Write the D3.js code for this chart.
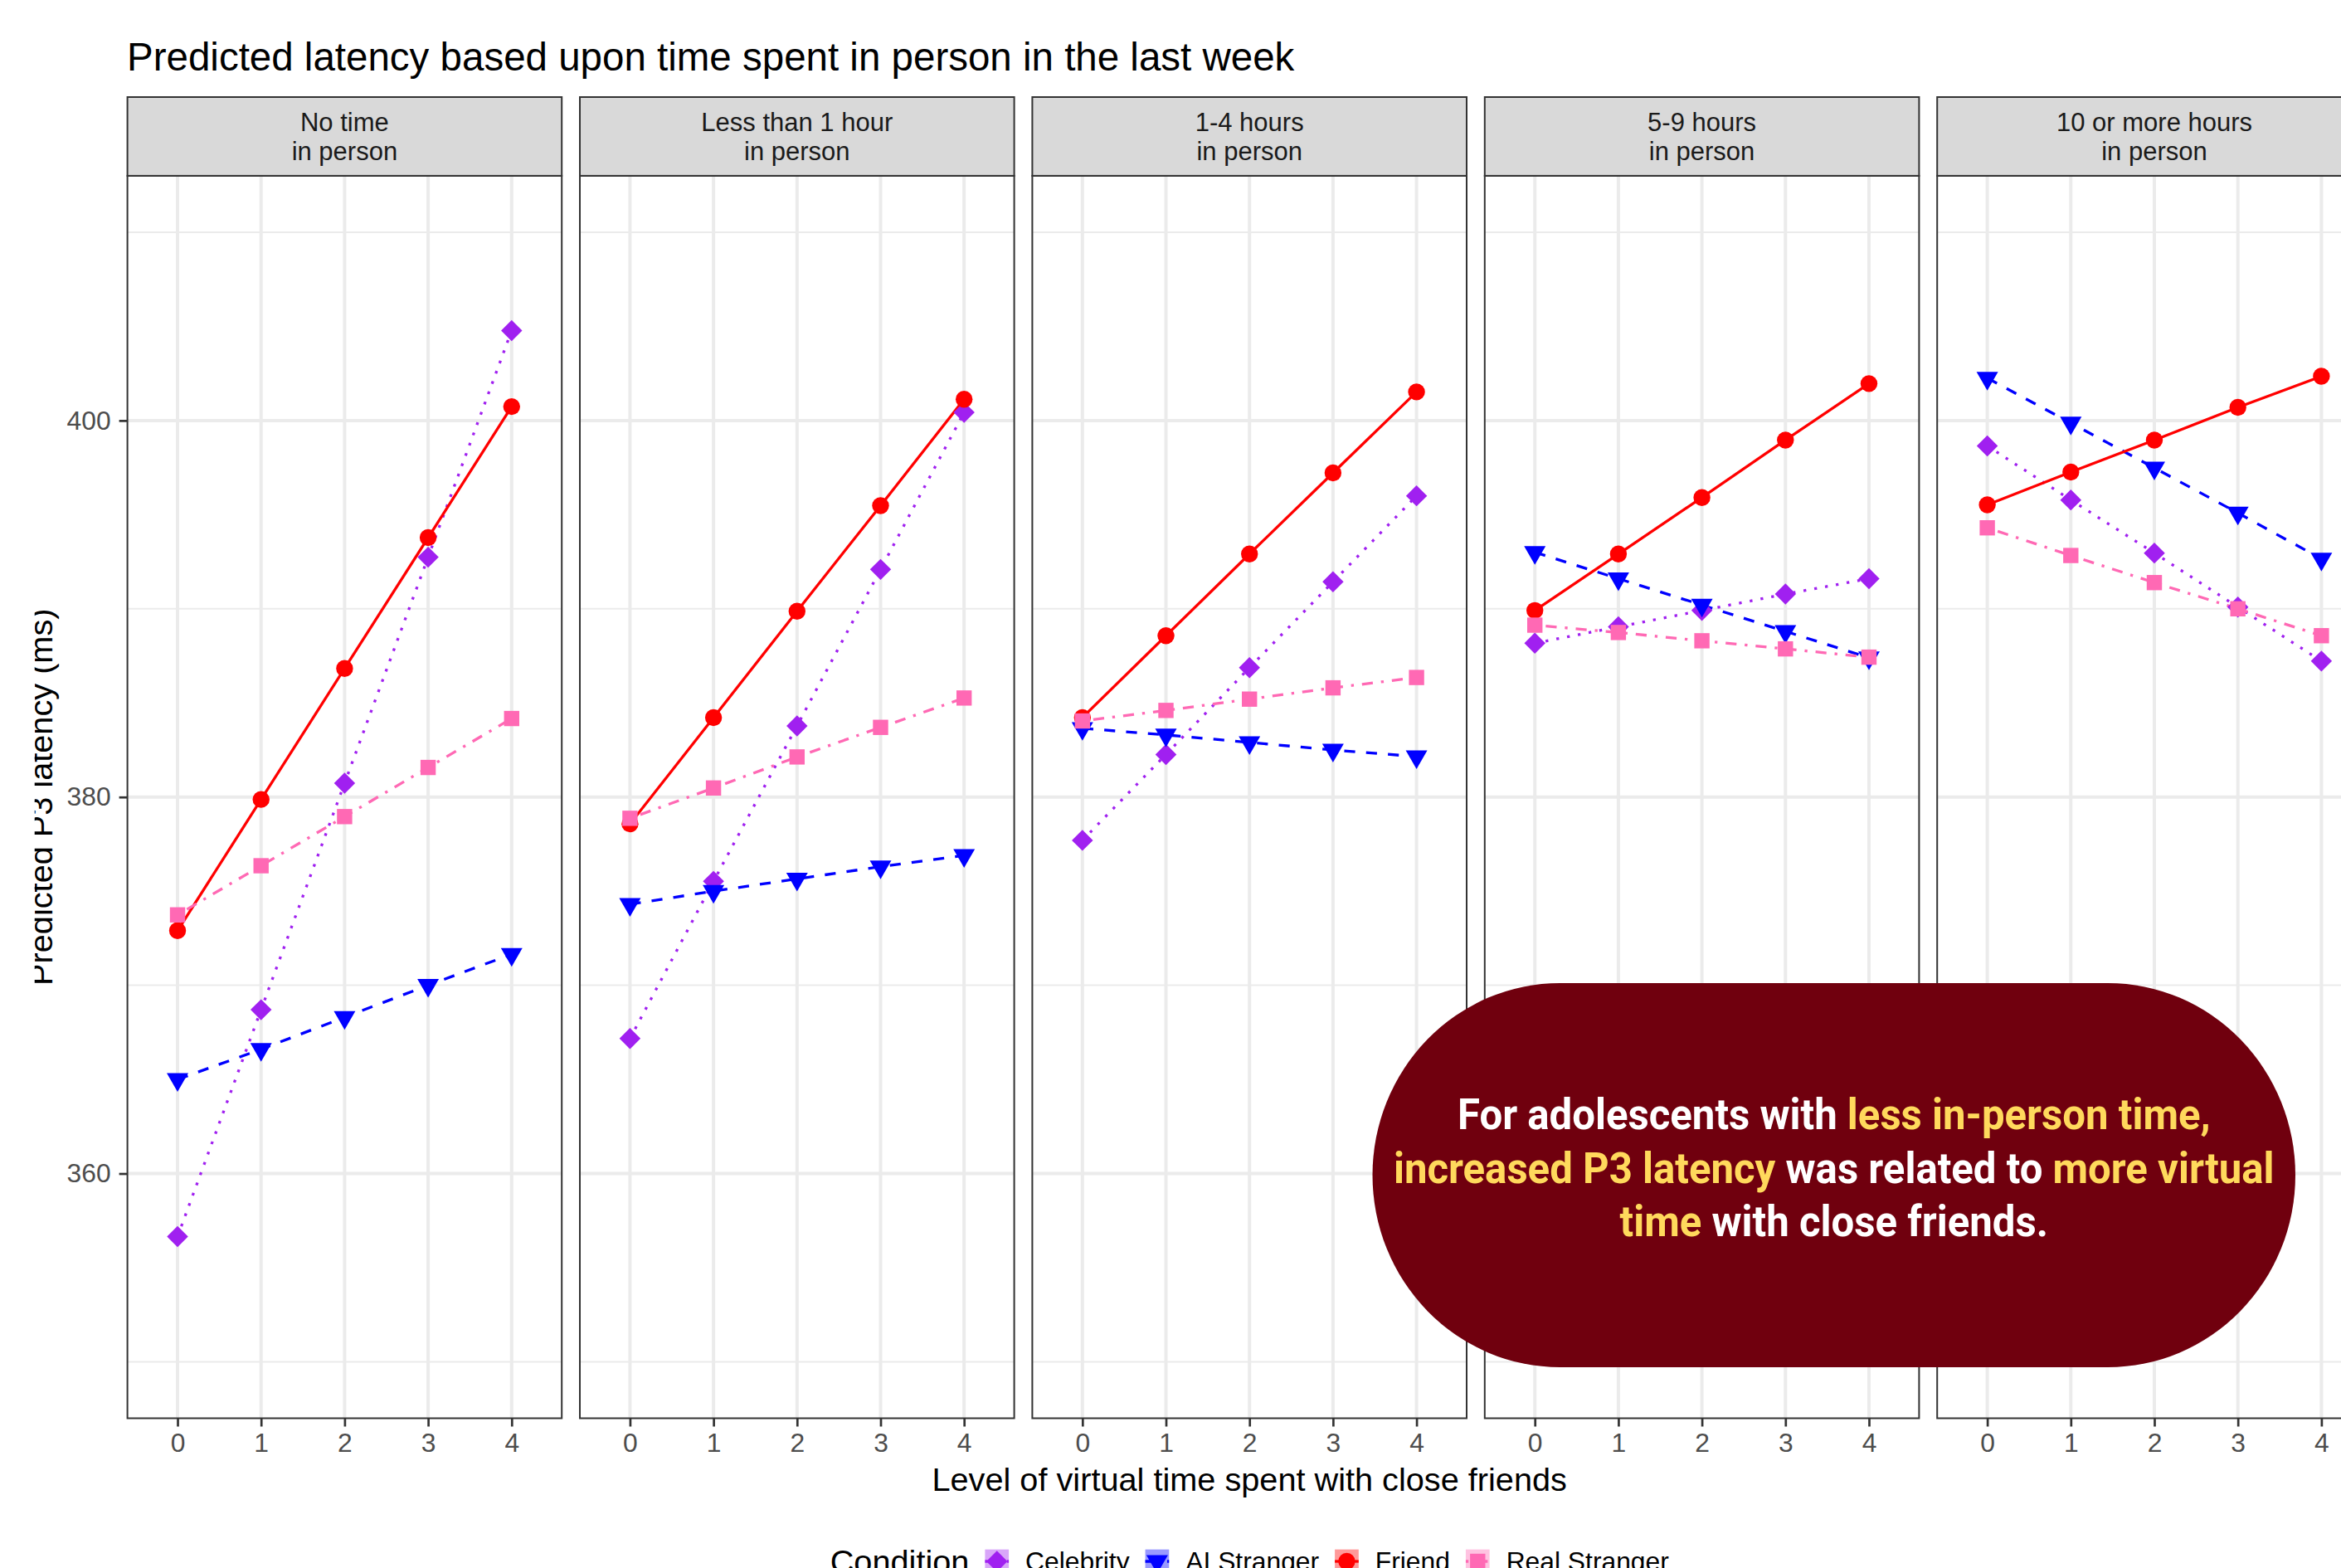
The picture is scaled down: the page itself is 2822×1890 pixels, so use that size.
<!DOCTYPE html>
<html><head><meta charset="utf-8">
<script src="https://cdn.jsdelivr.net/npm/d3@7"></script>
<style>html,body{margin:0;padding:0;background:#fff;} svg{display:block;}</style>
</head><body>
<svg id="chart" width="2822" height="1890"></svg>
<script>
// ---------------- data ----------------
const panelLabels = ["No time\nin person", "Less than 1 hour\nin person", "1-4 hours\nin person", "5-9 hours\nin person", "10 or more hours\nin person"];
const xLevels = [0, 1, 2, 3, 4];
const conditions = ["Celebrity", "AI Stranger", "Friend", "Real Stranger"];
const yTicks = [360, 380, 400];
const yMinorTicks = [350, 370, 390, 410];

const celebrity = [
  [356.65, 368.70, 380.74, 392.74, 404.78],
  [367.17, 375.52, 383.78, 392.09, 400.43],
  [377.70, 382.26, 386.87, 391.43, 396.00],
  [388.17, 389.04, 389.91, 390.78, 391.60],
  [398.65, 395.78, 392.96, 390.09, 387.22]
];
const aiStranger = [
  [365.00, 366.60, 368.30, 370.00, 371.65],
  [374.30, 375.00, 375.65, 376.30, 376.90],
  [383.65, 383.30, 382.90, 382.50, 382.15],
  [393.00, 391.60, 390.20, 388.80, 387.40],
  [402.25, 399.87, 397.48, 395.09, 392.65]
];
const friend = [
  [372.90, 379.87, 386.83, 393.78, 400.74],
  [378.57, 384.22, 389.87, 395.48, 401.13],
  [384.22, 388.57, 392.91, 397.22, 401.52],
  [389.91, 392.91, 395.91, 398.96, 401.96],
  [395.52, 397.26, 398.96, 400.70, 402.35]
];
const realStranger = [
  [373.74, 376.35, 378.96, 381.57, 384.17],
  [378.87, 380.48, 382.13, 383.70, 385.26],
  [384.04, 384.60, 385.20, 385.80, 386.35],
  [389.13, 388.74, 388.30, 387.87, 387.43],
  [394.30, 392.83, 391.39, 390.00, 388.57]
];
const seriesValues = [celebrity, aiStranger, friend, realStranger];

// ---------------- styles ----------------
const colors = ["#A020F0", "#0000FF", "#FF0000", "#FF69B4"];
const dashes = ["3.3,9.9", "13.2,13.2", null, "3.3,9.9,13.2,9.9"];
const shapes = ["diamond", "triangleDown", "circle", "square"];

const W = 2822, H = 1890;
const panelX0 = 153.6, panelW = 523.6, panelGap = 21.8;
const plotTop = 211.9, plotBottom = 1709.5, stripTop = 117;
const FONT = "'Liberation Sans', Arial, Helvetica, sans-serif";

const svg = d3.select("#chart").attr("font-family", FONT);
svg.append("rect").attr("width", W).attr("height", H).attr("fill", "#fff");

const y = d3.scaleLinear().domain([347, 413]).range([plotBottom, plotTop]);

function symbolPath(shape) {
  if (shape === "circle") return d3.symbol(d3.symbolCircle, Math.PI * 10.2 * 10.2)();
  if (shape === "square") return d3.symbol(d3.symbolSquare, 18.4 * 18.4)();
  if (shape === "diamond") return d3.symbol(d3.symbolSquare, 18.0 * 18.0)();
  if (shape === "triangleDown") return d3.symbol(d3.symbolTriangle, 292)();
}
function symbolRotate(shape) {
  if (shape === "diamond") return 45;
  if (shape === "triangleDown") return 180;
  return 0;
}

// ---------------- title ----------------
svg.append("text").attr("x", 153).attr("y", 85)
  .attr("font-size", 47.5).attr("fill", "#000")
  .text("Predicted latency based upon time spent in person in the last week");

// ---------------- panels ----------------
panelLabels.forEach((lab, p) => {
  const px = panelX0 + p * (panelW + panelGap);
  const x = d3.scaleLinear().domain([-0.6, 4.6]).range([px, px + panelW]);
  const g = svg.append("g");

  g.append("rect").attr("x", px).attr("y", plotTop).attr("width", panelW)
    .attr("height", plotBottom - plotTop).attr("fill", "#fff");

  g.selectAll(".gminor").data(yMinorTicks).enter().append("line")
    .attr("x1", px).attr("x2", px + panelW)
    .attr("y1", d => y(d)).attr("y2", d => y(d))
    .attr("stroke", "#EBEBEB").attr("stroke-width", 2);
  g.selectAll(".gmajor").data(yTicks).enter().append("line")
    .attr("x1", px).attr("x2", px + panelW)
    .attr("y1", d => y(d)).attr("y2", d => y(d))
    .attr("stroke", "#EBEBEB").attr("stroke-width", 4);
  g.selectAll(".gx").data(xLevels).enter().append("line")
    .attr("x1", d => x(d)).attr("x2", d => x(d))
    .attr("y1", plotTop).attr("y2", plotBottom)
    .attr("stroke", "#EBEBEB").attr("stroke-width", 4);

  const line = d3.line().x((d, i) => x(xLevels[i])).y(d => y(d));
  seriesValues.forEach((sv, s) => {
    g.append("path").attr("d", line(sv[p])).attr("fill", "none")
      .attr("stroke", colors[s]).attr("stroke-width", 3.3)
      .attr("stroke-linecap", "butt")
      .attr("stroke-dasharray", dashes[s]);
  });
  seriesValues.forEach((sv, s) => {
    g.selectAll(".pt" + s).data(sv[p]).enter().append("path")
      .attr("d", symbolPath(shapes[s]))
      .attr("transform", (d, i) => `translate(${x(xLevels[i])},${y(d)}) rotate(${symbolRotate(shapes[s])})`)
      .attr("fill", colors[s]);
  });

  g.append("rect").attr("x", px).attr("y", plotTop).attr("width", panelW)
    .attr("height", plotBottom - plotTop).attr("fill", "none")
    .attr("stroke", "#333333").attr("stroke-width", 2);

  g.append("rect").attr("x", px).attr("y", stripTop).attr("width", panelW)
    .attr("height", plotTop - stripTop).attr("fill", "#D9D9D9")
    .attr("stroke", "#333333").attr("stroke-width", 2);
  const lines = lab.split("\n");
  const cy = (stripTop + plotTop) / 2;
  lines.forEach((t, k) => {
    g.append("text").attr("x", px + panelW / 2)
      .attr("y", cy + (k - (lines.length - 1) / 2) * 34.4 + 11.1)
      .attr("text-anchor", "middle").attr("font-size", 31)
      .attr("fill", "#1A1A1A").text(t);
  });

  const ax = svg.append("g").attr("transform", `translate(0,${plotBottom})`)
    .call(d3.axisBottom(x).tickValues(xLevels).tickFormat(d3.format("d")).tickSize(10).tickPadding(8));
  ax.select(".domain").remove();
  ax.selectAll("line").attr("stroke", "#333333").attr("stroke-width", 2.7);
  ax.selectAll("text").attr("font-size", 31.8).attr("fill", "#4D4D4D").attr("font-family", FONT);

  if (p === 0) {
    const ay = svg.append("g").attr("transform", `translate(${px},0)`)
      .call(d3.axisLeft(y).tickValues(yTicks).tickSize(10).tickPadding(10));
    ay.select(".domain").remove();
    ay.selectAll("line").attr("stroke", "#333333").attr("stroke-width", 2.7);
    ay.selectAll("text").attr("font-size", 31.8).attr("fill", "#4D4D4D").attr("font-family", FONT);
  }
});

// ---------------- axis titles ----------------
const fullRight = panelX0 + 5 * panelW + 4 * panelGap;
svg.append("text").attr("x", (panelX0 + fullRight) / 2).attr("y", 1796.7)
  .attr("text-anchor", "middle").attr("font-size", 39.7).attr("fill", "#000")
  .text("Level of virtual time spent with close friends");

svg.append("clipPath").attr("id", "ytclip").append("rect")
  .attr("x", 41.7).attr("y", 0).attr("width", 200).attr("height", H);
svg.append("g").attr("clip-path", "url(#ytclip)")
  .append("text").attr("transform", `translate(63.3,${(plotTop + plotBottom) / 2}) rotate(-90)`)
  .attr("text-anchor", "middle").attr("font-size", 39.7).attr("fill", "#000")
  .text("Predicted P3 latency (ms)");

// ---------------- legend ----------------
const legY = 1882;
const lg = svg.append("g");
const lt = lg.append("text").attr("x", 1000.7).attr("y", legY + 14.2)
  .attr("font-size", 39.7).attr("fill", "#000").text("Condition");
let cx = 1000.7 + lt.node().getComputedTextLength() + 19;
const keyW = 28.7;
conditions.forEach((c, s) => {
  lg.append("rect").attr("x", cx).attr("y", legY - keyW / 2).attr("width", keyW).attr("height", keyW)
    .attr("fill", colors[s]).attr("fill-opacity", 0.4);
  lg.append("line").attr("x1", cx).attr("x2", cx + keyW).attr("y1", legY).attr("y2", legY)
    .attr("stroke", colors[s]).attr("stroke-width", 3.3).attr("stroke-dasharray", dashes[s]);
  lg.append("path").attr("d", symbolPath(shapes[s]))
    .attr("transform", `translate(${cx + keyW / 2},${legY}) rotate(${symbolRotate(shapes[s])})`)
    .attr("fill", colors[s]);
  const tx = lg.append("text").attr("x", cx + keyW + 20).attr("y", legY + 11.4)
    .attr("font-size", 31.8).attr("fill", "#000").text(c);
  cx = cx + keyW + 20 + tx.node().getComputedTextLength() + 19;
});

// ---------------- annotation ----------------
const boxX = 1654.5, boxY = 1185, boxW = 1112.5, boxH = 463;
svg.append("rect").attr("x", boxX).attr("y", boxY).attr("width", boxW).attr("height", boxH)
  .attr("rx", 226).attr("ry", 231.5).attr("fill", "#70000E");
const YEL = "#FFD95C", WHT = "#FFFFFF";
const noteLines = [
  [["For adolescents with ", WHT], ["less in-person time,", YEL]],
  [["increased P3 latency", YEL], [" was related to ", WHT], ["more virtual", YEL]],
  [["time", YEL], [" with close friends.", WHT]]
];
const noteBase = [1360.7, 1426, 1490.5];
const noteCx = boxX + boxW / 2;
const noteG = svg.append("g");
const noteTexts = noteLines.map((ln, k) => {
  const t = noteG.append("text").attr("x", 0).attr("y", noteBase[k])
    .attr("text-anchor", "middle").attr("font-family", "Roboto, 'Liberation Sans', sans-serif")
    .attr("font-weight", 700).attr("font-size", 52.5).style("white-space", "pre");
  ln.forEach(([s, col]) => t.append("tspan").attr("fill", col).text(s));
  return t;
});
// condense horizontally so the widest line matches the reference width
const w2 = noteTexts[1].node().getComputedTextLength();
const sx = 1062 / w2;
noteG.attr("transform", `translate(${noteCx},0) scale(${sx},1)`);
</script>
</body></html>
